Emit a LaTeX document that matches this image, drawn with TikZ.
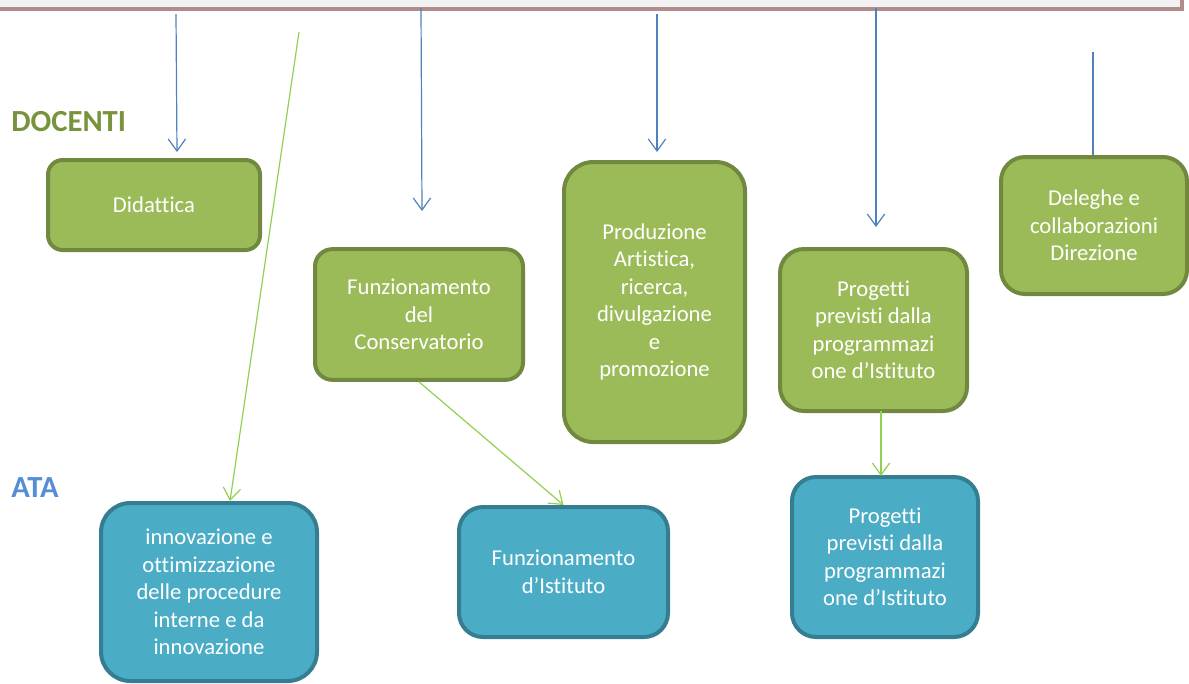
\documentclass[tikz,border=0pt]{standalone}
\usepackage{fontspec}
\setmainfont{Carlito}[Ligatures={NoCommon}]
\usetikzlibrary{arrows.meta}
\definecolor{gfill}{HTML}{9BBB59}
\definecolor{gline}{HTML}{71893F}
\definecolor{bfill}{HTML}{4BACC6}
\definecolor{bline}{HTML}{357D91}
\definecolor{barfill}{HTML}{F2F2F2}
\definecolor{barline}{HTML}{B08C8C}
\definecolor{blarrow}{HTML}{4F81BD}
\definecolor{grarrow}{HTML}{92D050}
\definecolor{doc}{HTML}{77933C}
\definecolor{ata}{HTML}{558ED5}
\tikzset{
  box/.style={draw, line width=3pt, align=center, text=white, inner sep=2pt,
    font=\fontsize{17}{20.6}\selectfont},
  gbox/.style={box, fill=gfill, draw=gline},
  bbox/.style={box, fill=bfill, draw=bline},
  barb/.style={-{Straight Barb[length=9pt,width=13pt]}},
  blue conn/.style={draw=blarrow, line width=0.9pt},
  green conn/.style={draw=grarrow, line width=0.9pt, barb},
  lbl/.style={font=\fontsize{23}{26}\selectfont\bfseries, anchor=west, inner sep=0pt}
}
\begin{document}
\begin{tikzpicture}[x=0.75pt,y=-0.75pt]
\useasboundingbox (0,0) rectangle (1189,683);
% top bar
\draw[fill=barfill, draw=barline, line width=2.5pt] (-10,-10) rectangle (1182,9);
% labels
\node[lbl, text=doc] (ldoc) at (11,122) {DOCENTI};
\node[lbl, text=ata] (lata) at (11,488) {ATA};
% docenti boxes
\node[gbox, minimum width=159pt, minimum height=67.5pt, rounded corners=11pt] (did) at (154,205) {Didattica};
\node[gbox, minimum width=156pt, minimum height=98pt, rounded corners=13pt] (fc) at (419,314.5) {Funzionamento\\del\\Conservatorio};
\node[gbox, minimum width=135.75pt, minimum height=210pt, rounded corners=22pt] (pa) at (654.5,302) {Produzione\\Artistica,\\ricerca,\\divulgazione\\e\\promozione};
\node[gbox, minimum width=140.25pt, minimum height=121.5pt, rounded corners=18pt] (pg) at (873.5,330) {Progetti\\previsti dalla\\programmazi\\one d’Istituto};
\node[gbox, minimum width=139.5pt, minimum height=102.75pt, rounded corners=18pt] (del) at (1094,225.5) {Deleghe e\\collaborazioni\\Direzione};
% ata boxes
\node[bbox, minimum width=162pt, minimum height=133.5pt, rounded corners=22pt] (inn) at (209,592) {innovazione e\\ottimizzazione\\delle procedure\\interne e da\\innovazione};
\node[bbox, minimum width=156.75pt, minimum height=97.5pt, rounded corners=18pt] (fi) at (563.5,572) {Funzionamento\\d’Istituto};
\node[bbox, minimum width=139.5pt, minimum height=120pt, rounded corners=18pt] (pb) at (885,557) {Progetti\\previsti dalla\\programmazi\\one d’Istituto};
% free ends
\coordinate (a1s) at (176,14);  \coordinate (a1e) at (177,152);
\coordinate (a2s) at (421,8);   \coordinate (a2e) at (422,211);
\coordinate (a3s) at (657,14);  \coordinate (a3e) at (657,152);
\coordinate (a4s) at (876,8);   \coordinate (a4e) at (876,227);
\coordinate (a5s) at (1093,52);
\coordinate (g1s) at (299,32);
\coordinate (g3s) at (881,411); \coordinate (g3e) at (881,476);
% blue connectors
\draw[blue conn, barb] (a1s) -- (a1e);
\draw[blue conn, barb] (a2s) -- (a2e);
\draw[blue conn, barb] (a3s) -- (a3e);
\draw[blue conn, barb] (a4s) -- (a4e);
\draw[blue conn] (a5s) -- (del.north -| a5s);
% green connectors
\draw[green conn] (g1s) -- (inn.north -| 230,0);
\draw[green conn] (fc.south) -- (fi.north);
\draw[green conn] (g3s) -- (g3e);
\end{tikzpicture}
\end{document}
